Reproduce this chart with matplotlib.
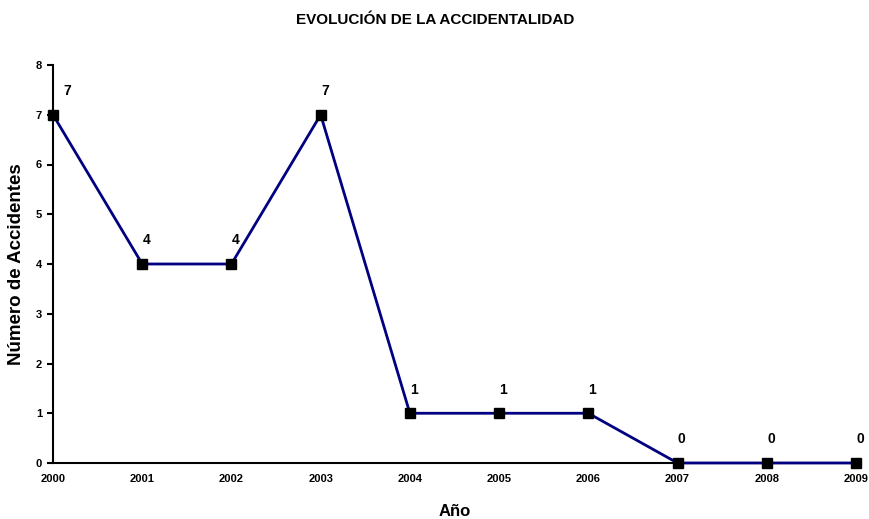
import matplotlib.pyplot as plt

plt.rcParams['font.family'] = ['Liberation Sans', 'DejaVu Sans']

# Data
years = ["2000", "2001", "2002", "2003", "2004", "2005", "2006", "2007", "2008", "2009"]
accidents = [7, 4, 4, 7, 1, 1, 1, 0, 0, 0]

fig = plt.figure(figsize=(8.7, 5.19), dpi=100)
ax = fig.add_axes([53 / 870, 1 - 463 / 519, (856 - 53) / 870, (463 - 65) / 519])

x = list(range(len(years)))
ax.plot(x, accidents, color="#000080", linewidth=2, marker="s", markersize=7,
        markerfacecolor="black", markeredgecolor="black", clip_on=False, zorder=3)

# Value labels above the points
for i, v in enumerate(accidents):
    dx = 10 if i == 0 else 3
    ax.annotate(str(v), (i, v), xytext=(dx, 12), textcoords="offset points",
                ha="center", va="bottom", fontsize=10, fontweight="bold")

ax.set_xlim(0, len(years) - 1)
ax.set_ylim(0, 8)
ax.set_xticks(x)
ax.set_xticklabels(years, fontsize=8, fontweight="bold")
ax.set_yticks(range(0, 9))
ax.set_yticklabels([str(i) for i in range(0, 9)], fontsize=8, fontweight="bold")
ax.tick_params(axis="x", length=0, pad=8)
ax.tick_params(axis="y", length=4, width=1.5, pad=4)

ax.spines["top"].set_visible(False)
ax.spines["right"].set_visible(False)
ax.spines["left"].set_linewidth(1.5)
ax.spines["bottom"].set_linewidth(1.5)

ax.set_xlabel("Año", fontsize=12, fontweight="bold", labelpad=14)
ax.set_ylabel("Número de Accidentes", fontsize=13.5, fontweight="bold", labelpad=8)
fig.suptitle("EVOLUCIÓN DE LA ACCIDENTALIDAD", fontsize=11, fontweight="bold", y=0.975)

fig.savefig("out.png", dpi=100)
